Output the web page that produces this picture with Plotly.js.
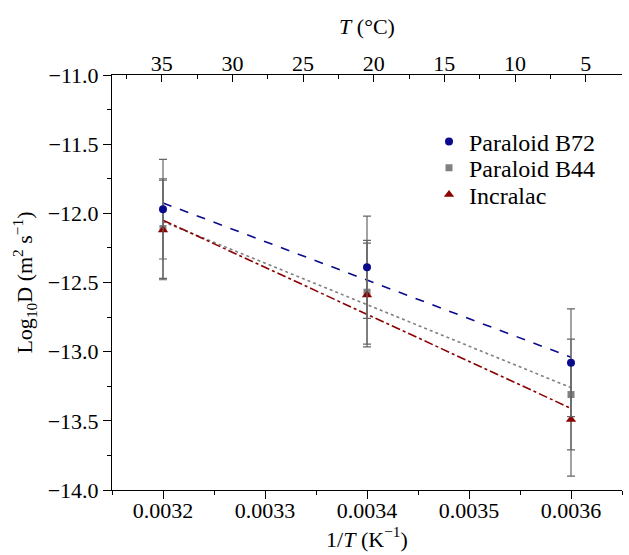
<!DOCTYPE html>
<html>
<head>
<meta charset="utf-8">
<script src="https://cdn.plot.ly/plotly-3.0.1.min.js"></script>
<style>html,body{margin:0;padding:0;background:#fff;}#chart{width:629px;height:555px;}</style>
</head>
<body>
<div id="chart"></div>
<script>
// Data
const invT = [0.0032, 0.0034, 0.0036];
const b72 = [-11.97, -12.39, -13.08];
const b72Err = [0.36, 0.37, 0.39];
const b44 = [-12.11, -12.57, -13.31];
const b44Err = [0.36, 0.375, 0.40];
const incr = [-12.12, -12.59, -13.49];
const incrErr = [0.36, 0.375, 0.41];
// Fitted trend lines (end points)
const fitX = [0.0032, 0.0036];
const fitB72 = [-11.925, -13.04];
const fitB44 = [-12.06, -13.26];
const fitIncr = [-12.05, -13.41];
// Top axis tick labels (temperature, °C)
const tempTicks = [35, 30, 25, 20, 15, 10, 5];
const seriesNames = ['Paraloid B72', 'Paraloid B44', 'Incralac'];

const FONT = 'Liberation Serif';
const cBlue = '#0a0a8c', cGray = '#808080', cRed = '#8b0000';
const errStyle = {type: 'data', visible: true, color: '#666666', thickness: 1.2, width: 4};

const traces = [
  {x: fitX, y: fitB44, mode: 'lines', line: {color: cGray, width: 1.6, dash: 'dot'}, showlegend: false, hoverinfo: 'skip'},
  {x: fitX, y: fitIncr, mode: 'lines', line: {color: cRed, width: 1.6, dash: 'dashdot'}, showlegend: false, hoverinfo: 'skip'},
  {x: fitX, y: fitB72, mode: 'lines', line: {color: cBlue, width: 1.6, dash: 'dash'}, showlegend: false, hoverinfo: 'skip'},
  {x: invT, y: b44, name: seriesNames[1], mode: 'markers', legend: 'legend2',
   marker: {symbol: 'square', size: 7, color: cGray}, error_y: Object.assign({array: b44Err}, errStyle)},
  {x: invT, y: incr, name: seriesNames[2], mode: 'markers', legend: 'legend3',
   marker: {symbol: 'triangle-up', size: 9, color: cRed}, error_y: Object.assign({array: incrErr}, errStyle)},
  {x: invT, y: b72, name: seriesNames[0], mode: 'markers', legend: 'legend',
   marker: {symbol: 'circle', size: 8, color: cBlue}, error_y: Object.assign({array: b72Err}, errStyle)},
  {x: [], y: [], xaxis: 'x2', yaxis: 'y', showlegend: false, hoverinfo: 'skip'}
];

const legBase = {x: 0.6216, xanchor: 'left', yanchor: 'middle', bgcolor: 'rgba(0,0,0,0)',
  font: {family: FONT, size: 24, color: '#000'}, borderwidth: 0};

const layout = {
  width: 629, height: 555,
  margin: {l: 112, r: 7, t: 75, b: 65},
  paper_bgcolor: '#fff', plot_bgcolor: '#fff',
  font: {family: FONT, size: 22, color: '#000'},
  showlegend: true,
  legend: Object.assign({}, legBase, {y: 0.839}),
  legend2: Object.assign({}, legBase, {y: 0.7755}),
  legend3: Object.assign({}, legBase, {y: 0.711}),
  xaxis: {
    range: [0.00315, 0.00365], tick0: 0.0032, dtick: 0.0001, tickformat: '.4f',
    showgrid: false, zeroline: false, showline: true, linecolor: '#000', linewidth: 1,
    ticks: 'outside', ticklen: 8, tickcolor: '#000', tickwidth: 1, ticklabelstandoff: -7,
    minor: {dtick: 0.00005, tick0: 0.0032, ticks: 'outside', ticklen: 4, tickcolor: '#000'},
    tickfont: {family: FONT, size: 22, color: '#000'},
    title: {text: '1/<i>T</i> (K<sup>\u22121</sup>)', font: {family: FONT, size: 22}, standoff: 7}
  },
  xaxis2: {
    overlaying: 'x', side: 'top', anchor: 'y',
    range: [38.52, 2.43], tickmode: 'array', tickvals: tempTicks, ticktext: tempTicks.map(String),
    showgrid: false, zeroline: false, showline: true, linecolor: '#000', linewidth: 1,
    ticks: 'inside', ticklen: 7, tickcolor: '#000', ticklabelstandoff: -6,
    minor: {dtick: 2.5, tick0: 0, ticks: 'inside', ticklen: 4, tickcolor: '#000'},
    tickfont: {family: FONT, size: 22, color: '#000'},
    title: {text: '<i>T</i> (\u00B0C)', font: {family: FONT, size: 22}, standoff: 10}
  },
  yaxis: {
    range: [-14, -11], dtick: 0.5, tick0: -14, tickformat: '.1f',
    showgrid: false, zeroline: false, showline: true, linecolor: '#000', linewidth: 1,
    ticks: 'outside', ticklen: 8, tickcolor: '#000',
    minor: {dtick: 0.25, tick0: -14, ticks: 'outside', ticklen: 4, tickcolor: '#000'},
    tickfont: {family: FONT, size: 22, color: '#000'},
    title: {text: 'Log<sub>10</sub>D (m<sup>2</sup> s<sup>\u22121</sup>)', font: {family: FONT, size: 22}, standoff: 8}
  }
};

Plotly.newPlot('chart', traces, layout, {displayModeBar: false, staticPlot: true});
</script>
</body>
</html>
